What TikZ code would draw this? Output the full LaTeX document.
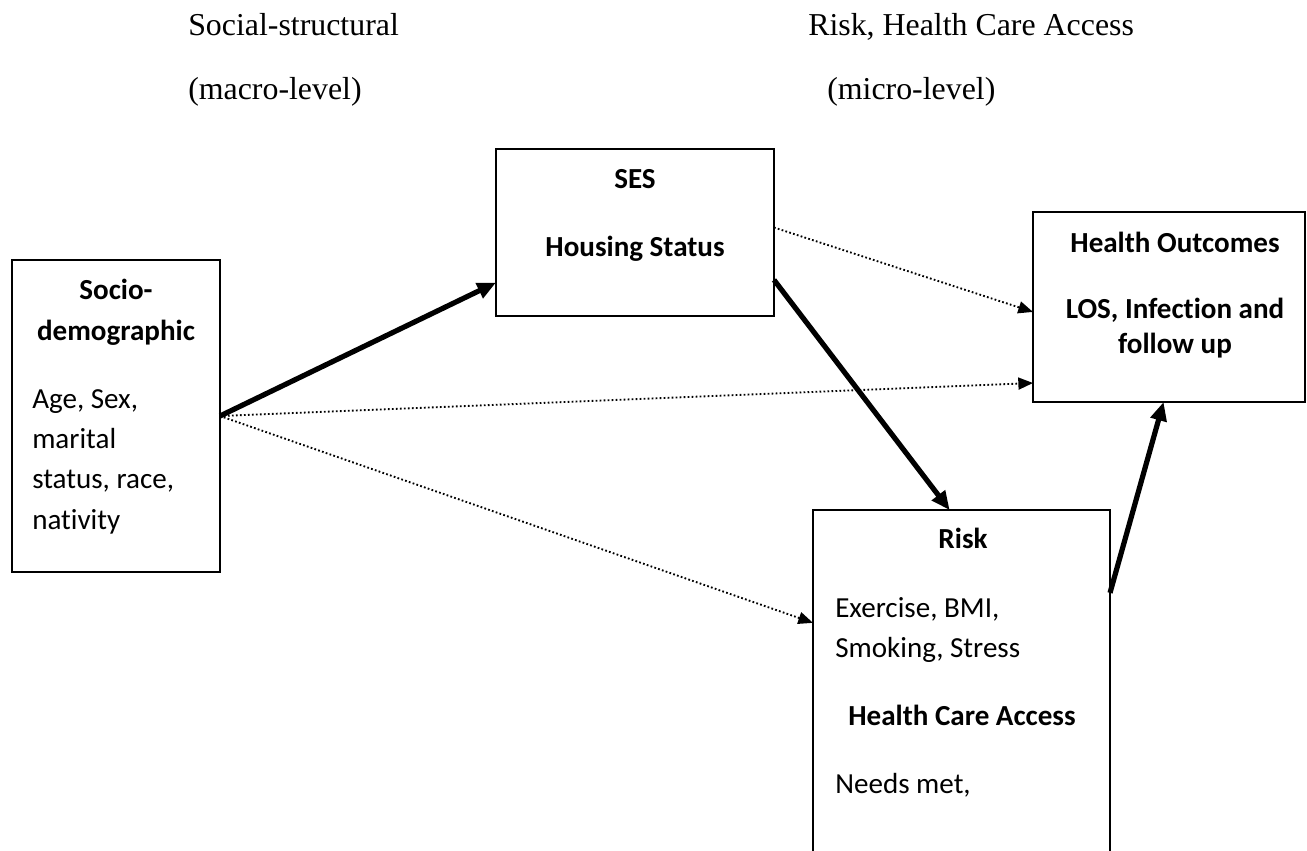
\documentclass[tikz,border=0pt]{standalone}
\usepackage{fontspec}
\setmainfont{Carlito}[Ligatures={NoCommon}]
\newfontfamily\timesf{Liberation Serif}
\usetikzlibrary{arrows.meta,calc}
\begin{document}
\begin{tikzpicture}[x=0.75pt,y=-0.75pt,
  box/.style={draw, line width=1.5pt, rectangle, inner sep=0pt, outer sep=0pt},
  lbl/.style={inner sep=0pt, anchor=base, font=\fontsize{21.8}{26}\selectfont},
  lblb/.style={inner sep=0pt, anchor=base, font=\fontsize{21.8}{26}\selectfont\bfseries},
  lbll/.style={inner sep=0pt, anchor=base west, font=\fontsize{21.8}{26}\selectfont},
  ttl/.style={inner sep=0pt, anchor=base west, font=\timesf\fontsize{23.9}{28}\selectfont},
  strong/.style={line width=3.9pt, -{Triangle[length=14pt,width=12pt]}},
  weak/.style={line width=1.4pt, dash pattern=on 1.3pt off 1.7pt, -{Triangle[length=11pt,width=9pt]}}]
\clip (0,0) rectangle (1307,850);
\fill[white] (0,0) rectangle (1307,850);

% titles
\node[ttl] (t1) at (188,35) {Social-structural};
\node[ttl] (t2) at (188,99) {(macro-level)};
\node[ttl] (t3) at (808,35) {Risk, Health Care Access};
\node[ttl] (t4) at (827,99) {(micro-level)};

% boxes
\node[box, minimum width=156pt, minimum height=234pt] (socio) at (116,416) {};
\node[box, minimum width=208.5pt, minimum height=125.25pt] (ses) at (635,232.5) {};
\node[box, minimum width=204pt, minimum height=142.5pt] (ho) at (1169,307) {};
\node[box, minimum width=222.75pt, minimum height=277.5pt] (risk) at (961.5,695) {};

% socio texts
\node[lblb] (s1) at (116,299) {Socio-};
\node[lblb] (s2) at (116,340) {demographic};
\node[lbll] (s3) at (32,408) {Age, Sex,};
\node[lbll] (s4) at (32,448) {marital};
\node[lbll] (s5) at (32,488) {status, race,};
\node[lbll] (s6) at (32,529) {nativity};

% SES texts
\node[lblb] (e1) at (635,188) {SES};
\node[lblb] (e2) at (635,256) {Housing Status};

% health outcome texts
\node[lblb] (h1) at (1175,252) {Health Outcomes};
\node[lblb] (h2) at (1175,318) {LOS, Infection and};
\node[lblb] (h3) at (1175,353) {follow up};

% risk texts
\node[lblb] (r1) at (963,548) {Risk};
\node[lbll] (r2) at (835,617) {Exercise, BMI,};
\node[lbll] (r3) at (835,657) {Smoking, Stress};
\node[lblb] (r4) at (962,725) {Health Care Access};
\node[lbll] (r5) at (835,793) {Needs met,};

% connectors
\draw[strong] (socio.east) -- ($(ses.south west)!0.2!(ses.north west)$);
\draw[weak] (socio.east) -- ($(ho.north west)!0.9!(ho.south west)$);
\draw[weak] (socio.east) -- ($(risk.north west)!0.305!(risk.south west)$);
\draw[weak] ($(ses.north east)!0.47!(ses.south east)$) -- ($(ho.north west)!0.526!(ho.south west)$);
\draw[strong] ($(ses.north east)!0.784!(ses.south east)$) -- ($(risk.north west)!0.46!(risk.north east)$);
\draw[strong] ($(risk.north east)!0.224!(risk.south east)$) -- ($(ho.south west)!0.48!(ho.south east)$);
\end{tikzpicture}
\end{document}
